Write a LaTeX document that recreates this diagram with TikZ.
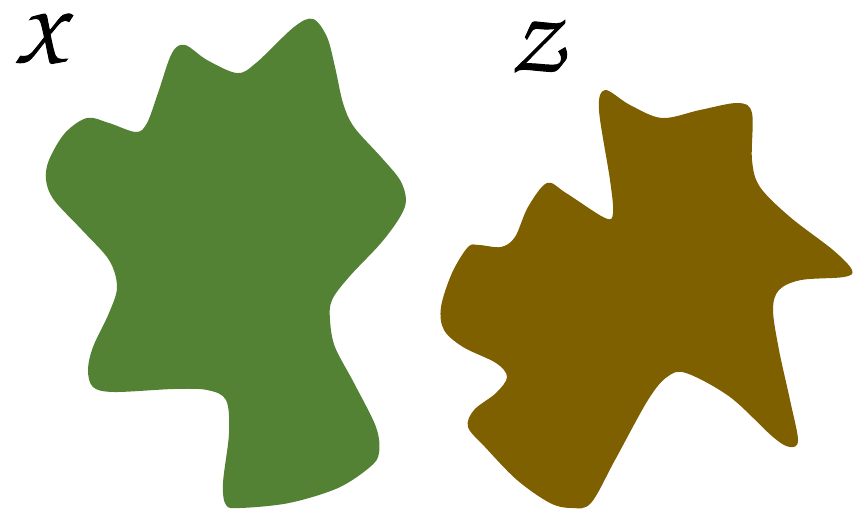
\documentclass[tikz,border=0pt]{standalone}
\definecolor{blobgreen}{HTML}{548235}
\definecolor{blobbrown}{HTML}{7F6000}
\newcommand{\heavytext}[1]{\special{pdf:literal 2 Tr 1.0 w}#1\special{pdf:literal 0 Tr}}
\tikzset{
  setlabel/.style={inner sep=0pt, font=\fontsize{84}{84}\usefont{OT1}{pzc}{m}{it}}
}
\begin{document}
\begin{tikzpicture}[x=1pt,y=-1pt]
\useasboundingbox (0,0) rectangle (853,509);
\fill[blobgreen] plot[smooth cycle, tension=0.55] coordinates {
 (313,19) (327,37) (335,67) (343,103) (354,127) (381,157) (400,180) (406,200)
 (400,217) (381,243) (349,277) (332,300) (330,320) (335,347) (354,383)
 (376,427) (379,453) (370,467) (338,488) (289,503) (240,508) (226,505)
 (223,483) (229,433) (226,400) (207,390) (174,389) (114,392) (93,387)
 (88,370) (93,347) (109,313) (117,287) (109,260) (82,230) (54,200)
 (46,180) (49,160) (65,133) (87,118) (109,123) (136,132) (147,123)
 (158,93) (172,53) (185,45) (207,60) (237,73) (256,63) (294,27)
};
\fill[blobbrown] plot[smooth cycle, tension=0.55] coordinates {
 (605,90) (630,105) (662,118) (700,110) (738,103) (752,113) (752,160)
 (760,187) (790,217) (833,250) (852,270) (844,277) (801,280) (779,290)
 (773,310) (779,350) (790,400) (798,440) (790,447) (773,437) (730,397)
 (686,373) (667,377) (648,400) (615,460) (591,503) (572,508) (550,503)
 (517,480) (485,447) (468,427) (474,410) (496,393) (507,377) (496,363)
 (463,347) (444,330) (441,307) (452,273) (468,247) (479,245) (501,247)
 (515,237) (528,207) (547,183) (566,193) (605,218) (613,213) (610,180)
 (599,110)
};
\node[setlabel] (lx) at (40,37) {\heavytext{X}};
\node[setlabel] (lz) at (536,45) {\heavytext{Z}};
\end{tikzpicture}
\end{document}
